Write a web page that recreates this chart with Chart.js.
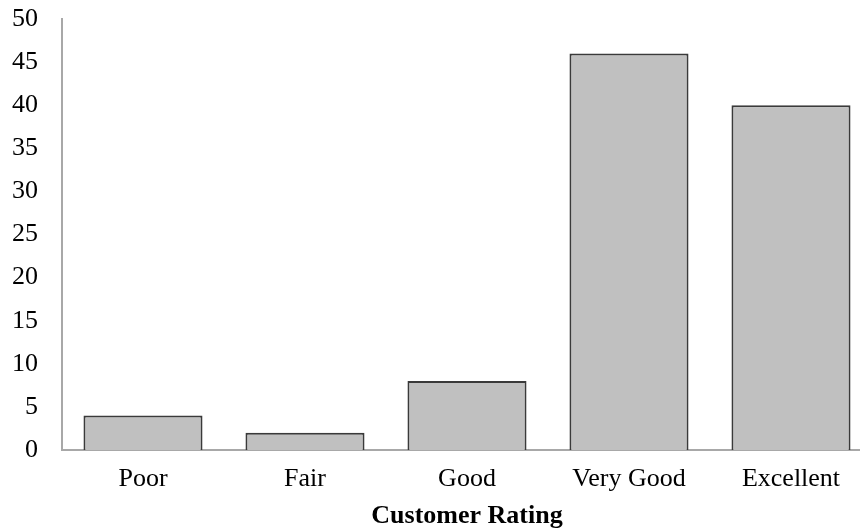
<!DOCTYPE html>
<html>
<head>
<meta charset="utf-8">
<script src="https://cdn.jsdelivr.net/npm/chart.js@4/dist/chart.umd.min.js"></script>
<style>
  html, body { margin: 0; padding: 0; background: #fff; overflow: hidden; }
  #wrap { width: 874px; height: 532px; position: relative; }
</style>
</head>
<body>
<div id="wrap"><canvas id="chartRating"></canvas></div>
<script>
// Data
const categories = ['Poor', 'Fair', 'Good', 'Very Good', 'Excellent'];
const ratingCounts = [4, 2, 8, 46, 40];
const yMin = 0;
const yMax = 50;
const yStep = 5;
const xTitle = 'Customer Rating';

const FONT = "'Liberation Serif', 'Times New Roman', serif";

const ctx = document.getElementById('chartRating').getContext('2d');

new Chart(ctx, {
  type: 'bar',
  data: {
    labels: categories,
    datasets: [{
      data: ratingCounts,
      backgroundColor: '#c0c0c0',
      borderColor: '#3a3a3a',
      borderWidth: 2,
      barPercentage: 0.735,
      categoryPercentage: 1.0
    }]
  },
  options: {
    responsive: true,
    maintainAspectRatio: false,
    animation: false,
    layout: {
      padding: { top: 19, right: 2, bottom: 0, left: 0 }
    },
    plugins: {
      legend: { display: false },
      tooltip: { enabled: false }
    },
    scales: {
      x: {
        grid: { display: false, drawTicks: false },
        border: { display: true, color: '#a8a8a8', width: 2 },
        ticks: {
          color: '#000',
          padding: 14,
          font: { family: FONT, size: 26 }
        },
        title: {
          display: true,
          text: xTitle,
          color: '#000',
          padding: 0,
          font: { family: FONT, size: 26, weight: 'bold' }
        },
        afterFit: (scale) => { scale.height = 82; }
      },
      y: {
        min: yMin,
        max: yMax,
        grid: { display: false, drawTicks: false },
        border: { display: true, color: '#a8a8a8', width: 2 },
        ticks: {
          stepSize: yStep,
          color: '#000',
          padding: 24,
          font: { family: FONT, size: 26 }
        },
        afterFit: (scale) => {
          scale.width = 62;
          // keep the tick padding from pushing the plot area down
          scale.paddingTop = 0;
          scale.paddingBottom = 0;
        }
      }
    }
  }
});
</script>
</body>
</html>
